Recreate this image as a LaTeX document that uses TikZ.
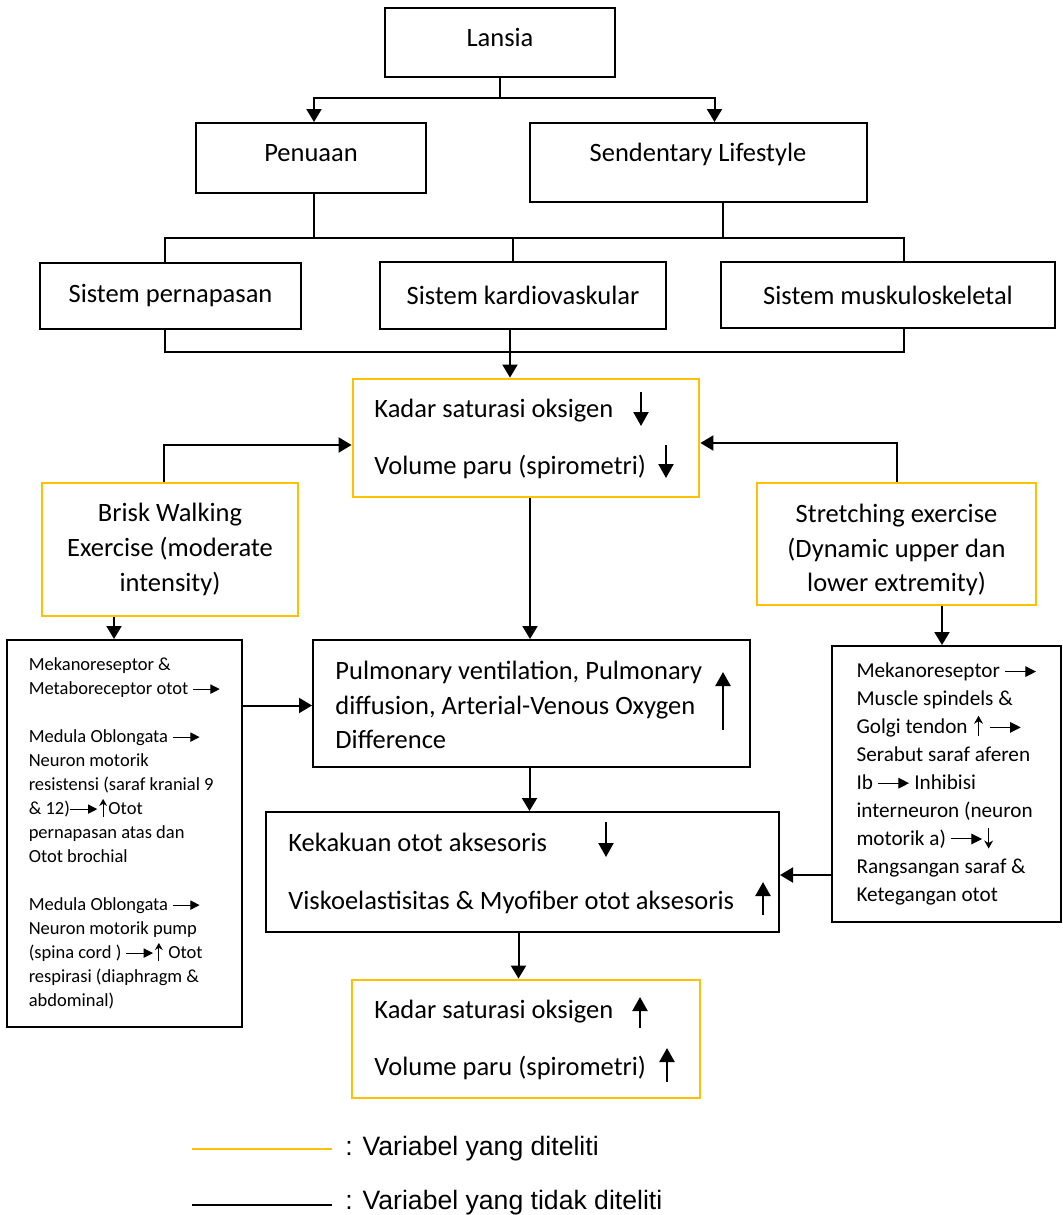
\documentclass[tikz,border=0pt]{standalone}
\usepackage{fontspec}
\setmainfont{Carlito}
\newfontfamily\legendfont{Liberation Sans}
\usepackage{tikz}
\usetikzlibrary{arrows.meta}

\definecolor{orng}{HTML}{FFC000}
\newcommand{\bigtxt}{\fontsize{13.25pt}{17.4pt}\selectfont}
\newcommand{\lboxtxt}{\fontsize{9.25pt}{12pt}\selectfont}
\newcommand{\rboxtxt}{\fontsize{10.6pt}{13.95pt}\selectfont}
\newcommand{\lgdtxt}{\legendfont\fontsize{13.3pt}{16pt}\selectfont}
% small arrows inside the texts
\newcommand{\rarr}{\tikz[baseline=-0.3em]\draw[line width=0.5pt,-{Triangle[length=0.5em,width=0.5em]}] (0,0) -- (1.45em,0);}
\newcommand{\uarr}{\hspace{0.08em}\tikz[baseline=0pt]\draw[line width=0.55pt,-{Stealth[length=0.38em,width=0.42em]}] (0,-0.1em) -- (0,0.85em);\hspace{0.08em}}
\newcommand{\darr}{\hspace{0.08em}\tikz[baseline=0pt]\draw[line width=0.55pt,-{Stealth[length=0.38em,width=0.42em]}] (0,0.8em) -- (0,-0.15em);\hspace{0.08em}}

\begin{document}
\begin{tikzpicture}[x=0.5pt,y=-0.5pt]
	\tikzset{box/.style = {draw, line width=1pt, inner sep=0pt}}
	\tikzset{ybox/.style = {draw=orng, line width=1.4pt, inner sep=0pt}}
	\tikzset{txt/.style = {font=\bigtxt, inner sep=0pt, text height=10.5pt, text depth=1pt}}
	\tikzset{wire/.style = {line width=1pt}}
	\tikzset{conn/.style = {->, > = {Triangle[length=6.5pt,width=7.5pt]}, line width=1pt}}
	\tikzset{ind/.style = {->, > = {Triangle[length=7pt,width=7.5pt]}, line width=1.1pt}}
	\useasboundingbox (0,0) rectangle (1062,1215);
	% top boxes
	\node[box, minimum width=115pt, minimum height=34.5pt] (lansia) at (500,42.5) {};
	\node[txt] (lansiaT) at (500,37) {Lansia};
	\node[box, minimum width=115pt, minimum height=35pt] (penuaan) at (311,158) {};
	\node[txt] (penuaanT) at (311,152) {Penuaan};
	\node[box, minimum width=168.5pt, minimum height=39.5pt] (sed) at (698.5,162.5) {};
	\node[txt] (sedT) at (698,152) {Sendentary Lifestyle};
	% systems
	\node[box, font=\bigtxt, minimum width=130.5pt, minimum height=33pt] (sp) at (170.5,296) {Sistem pernapasan};
	\node[box, font=\bigtxt, minimum width=143pt, minimum height=33.5pt] (sk) at (523,295.5) {Sistem kardiovaskular};
	\node[box, font=\bigtxt, minimum width=167pt, minimum height=33pt] (sm) at (888,295) {Sistem muskuloskeletal};
	% variables
	\node[ybox, minimum width=173pt, minimum height=59pt] (kadar) at (526,438) {};
	\node[txt, anchor=west] (kadarA) at (374,408) {Kadar saturasi oksigen};
	\node[txt, anchor=west] (kadarB) at (374,465) {Volume paru (spirometri)};
	\node[ybox, font=\bigtxt, align=center, minimum width=128pt, minimum height=66.5pt] (brisk) at (170,549.5) {Brisk Walking\\Exercise (moderate\\intensity)};
	\node[ybox, minimum width=139.5pt, minimum height=61pt] (strt) at (896.5,544) {};
	\node[font=\bigtxt, inner sep=0pt, align=center] (strtT) at (896.5,550) {Stretching exercise\\(Dynamic upper dan\\lower extremity)};
	% mechanisms
	\node[box, font=\lboxtxt, align=left, minimum width=117.5pt, minimum height=193.5pt] (lbox) at (124.5,833.5) {Mekanoreseptor \&\\
		Metaboreceptor otot \rarr\\[12pt]
		Medula Oblongata \rarr\\
		Neuron motorik\\
		resistensi (saraf kranial 9\\
		\& 12)\rarr\uarr Otot\\
		pernapasan atas dan\\
		Otot brochial\\[12pt]
		Medula Oblongata \rarr\\
		Neuron motorik pump\\
		(spina cord ) \rarr\uarr\ Otot\\
		respirasi (diaphragm \&\\
		abdominal)};
	\node[box, font=\rboxtxt, align=left, minimum width=114.5pt, minimum height=138pt] (rbox) at (946.5,784) {Mekanoreseptor \rarr\\
		Muscle spindels \&\\
		Golgi tendon \uarr\ \rarr\\
		Serabut saraf aferen\\
		Ib \rarr\ Inhibisi\\
		interneuron (neuron\\
		motorik a) \rarr\darr\\
		Rangsangan saraf \&\\
		Ketegangan otot};
	\node[box, minimum width=218.5pt, minimum height=63.5pt] (pulm) at (531.5,703.5) {};
	\node[font=\bigtxt, inner sep=0pt, align=left, anchor=west] (pulmT) at (335,705) {Pulmonary ventilation, Pulmonary\\diffusion, Arterial-Venous Oxygen\\Difference};
	\node[box, minimum width=256.5pt, minimum height=60pt] (kek) at (522.5,872) {};
	\node[txt, anchor=west] (kekA) at (288,842) {Kekakuan otot aksesoris};
	\node[txt, anchor=west] (kekB) at (288,900) {Viskoelastisitas \& Myofiber otot aksesoris};
	\node[ybox, minimum width=174pt, minimum height=59pt] (kadar2) at (526,1039) {};
	\node[txt, anchor=west] (kadar2A) at (374,1009) {Kadar saturasi oksigen};
	\node[txt, anchor=west] (kadar2B) at (374,1066) {Volume paru (spirometri)};
	% up and down marks
	\draw[ind] (641,392) -- (641,426);
	\draw[ind] (666,445) -- (666,478);
	\draw[ind] (723,730) -- (723,672);
	\draw[ind] (606,822) -- (606,857);
	\draw[ind] (763,915) -- (763,882);
	\draw[ind] (640,1028) -- (640,997);
	\draw[ind] (667,1082) -- (667,1048);
	% edges
	\coordinate (lsplit) at ([yshift=-10pt]lansia.south);
	\coordinate (bus) at (500,238);
	\coordinate (bus2) at (500,352);
	\draw[wire] (lansia.south) -- (lsplit);
	\draw[conn] (lsplit) -| ([xshift=1.5pt]penuaan.north);
	\draw[conn] (lsplit) -| ([xshift=8pt]sed.north);
	\draw[wire] ([xshift=1.5pt]penuaan.south) -- ([xshift=1.5pt]penuaan.south |- bus);
	\draw[wire] ([xshift=12pt]sed.south) -- ([xshift=12pt]sed.south |- bus);
	\draw[wire] ([xshift=-3pt]sp.north) |- (bus) -| ([xshift=8pt]sm.north);
	\draw[wire] ([xshift=-5pt]sk.north) -- ([xshift=-5pt]sk.north |- bus);
	\draw[wire] ([xshift=-3pt]sp.south) |- (bus2) -| ([xshift=8pt]sm.south);
	\draw[conn] ([xshift=-6.5pt]sk.south) -- ([xshift=-6.5pt]sk.south |- kadar.north);
	\draw[conn] ([xshift=-3pt]brisk.north) |- ([yshift=-3.5pt]kadar.west);
	\draw[conn] (strt.north) |- ([yshift=-2.5pt]kadar.east);
	\draw[conn] ([xshift=2pt]kadar.south) -- ([xshift=2pt]kadar.south |- pulm.north);
	\draw[conn] ([xshift=-28pt]brisk.south) -- ([xshift=-28pt]brisk.south |- lbox.north);
	\draw[conn] ([xshift=22.75pt]strt.south) -- ([xshift=22.75pt]strt.south |- rbox.north);
	\draw[conn] ([yshift=-1pt]lbox.east |- pulm.west) -- ([yshift=-1pt]pulm.west);
	\draw[conn] ([xshift=-1pt]pulm.south) -- ([xshift=-1pt]pulm.south |- kek.north);
	\draw[conn] ([yshift=-1.5pt]rbox.west |- kek.east) -- ([yshift=-1.5pt]kek.east);
	\draw[conn] ([xshift=-2pt]kek.south) -- ([xshift=-2pt]kek.south |- kadar2.north);
	% legend
	\node[font=\lgdtxt, inner sep=0pt, anchor=west] (lgdA) at (345,1149) {: Variabel yang diteliti};
	\node[font=\lgdtxt, inner sep=0pt, anchor=west] (lgdB) at (345,1203) {: Variabel yang tidak diteliti};
	\draw[orng, line width=0.6pt] ([xshift=-76.5pt]lgdA.west) -- ([xshift=-6.5pt]lgdA.west);
	\draw[line width=0.8pt] ([xshift=-76.5pt,yshift=-1pt]lgdB.west) -- ([xshift=-6.5pt,yshift=-1pt]lgdB.west);
\end{tikzpicture}
\end{document}
